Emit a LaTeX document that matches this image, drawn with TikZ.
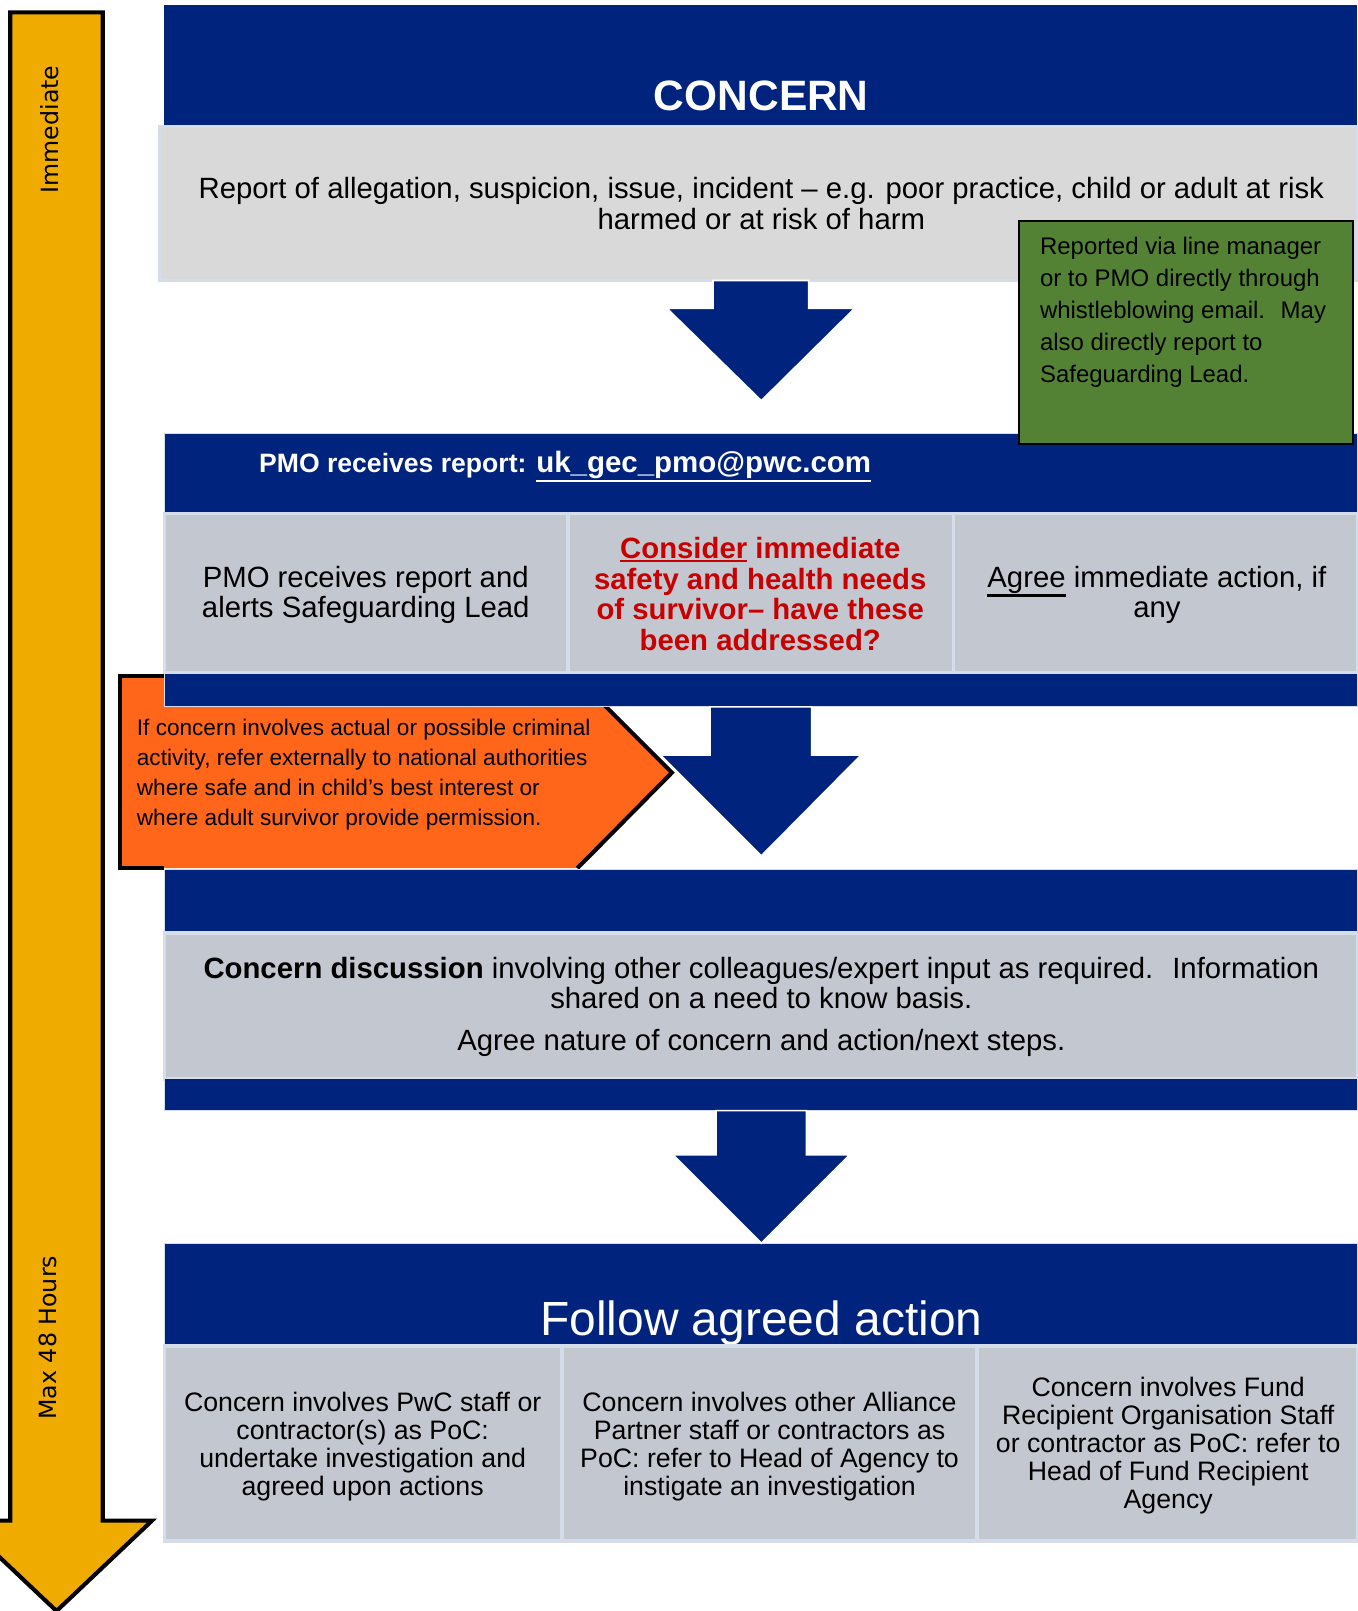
\documentclass[tikz,border=0pt]{standalone}
\usepackage{fontspec}
\setmainfont{Liberation Sans}
\newfontfamily\barfont{DejaVu Sans}

\definecolor{pwcnavy}{RGB}{0,35,125}
\definecolor{boxgrey}{RGB}{217,217,217}
\definecolor{cellgrey}{RGB}{195,199,208}
\definecolor{celledge}{RGB}{214,221,234}
\definecolor{leafgreen}{RGB}{84,130,53}
\definecolor{alertorange}{RGB}{255,102,26}
\definecolor{timegold}{RGB}{240,171,0}
\definecolor{alertred}{RGB}{200,0,0}

% thick underline that follows the text colour
\newcommand{\ulword}[1]{\setbox0=\hbox{#1}\rlap{\rule[\dimexpr-\dp0-2.5pt\relax]{\wd0}{1.6pt}}\box0\relax}

\tikzset{
  navyband/.style={fill=pwcnavy, draw=celledge, line width=0.8pt},
  greybox/.style={fill=boxgrey, draw=celledge, line width=2.5pt},
  greycell/.style={fill=cellgrey, draw=celledge, line width=2.5pt},
  downarrow/.style={fill=pwcnavy, draw=white, line width=1.2pt},
  timebar/.style={fill=timegold, draw=black, line width=3pt},
  bodytext/.style={font=\fontsize{21.4}{22.5}\selectfont, align=center, inner sep=0pt},
  celltext/.style={font=\fontsize{19.5}{20.3}\selectfont, align=center, inner sep=0pt},
  notetext/.style={align=left, inner sep=0pt, anchor=west},
  bartext/.style={font=\barfont\fontsize{17.3}{20}\selectfont, rotate=90, inner sep=0pt}
}

\begin{document}
\begin{tikzpicture}[x=0.75pt, y=-0.75pt]
    \useasboundingbox (0,0) rectangle (1321,1568);

    % Time bar on the left
    \draw[timebar] (10,12) -- (100,12) -- (100,1480) -- (148,1480) -- (55,1568) -- (-38,1480) -- (10,1480) -- cycle;
    \node[bartext] (immediate) at (48,126) {Immediate};
    \node[bartext] (maxhours) at (47,1302) {Max 48 Hours};

    % Concern header and report box
    \fill[pwcnavy] (160,5) rectangle (1321,123);
    \node[font=\bfseries\fontsize{31}{36}\selectfont, text=white, anchor=base] (concern) at (741,108) {CONCERN};
    \draw[greybox] (155,123) rectangle (1321,273);
    \node[bodytext] (report) at (741,198) {Report of allegation, suspicion, issue, incident -- e.g. poor practice, child or adult at risk\\harmed or at risk of harm};

    % First down arrow
    \draw[downarrow] (694,273) -- (787,273) -- (787,300) -- (832,300) -- (741,390) -- (649,300) -- (694,300) -- cycle;

    % PMO band and its three cells
    \draw[navyband] (160,422) rectangle (1321,500);
    \node[font=\bfseries\fontsize{19.4}{24}\selectfont, text=white, anchor=base west, inner sep=0pt] (pmo) at (252,460) {PMO receives report: {\fontsize{21.5}{24}\selectfont\ulword{uk\_gec\_pmo@pwc.com}}};
    \draw[greycell] (160,500) rectangle (553,655);
    \draw[greycell] (553,500) rectangle (928,655);
    \draw[greycell] (928,500) rectangle (1321,655);
    \node[bodytext] (alerts) at (356,579) {PMO receives report and\\alerts Safeguarding Lead};
    \node[bodytext, font=\bfseries\fontsize{21.4}{22.3}\selectfont, text=alertred] (safety) at (740,578) {\ulword{Consider} immediate\\safety and health needs\\of survivor-- have these\\been addressed?};
    \node[bodytext] (agree) at (1126,579) {\ulword{Agree} immediate action, if\\any};

    % Green note
    \draw[fill=leafgreen, draw=black, line width=1.5pt] (992,215) rectangle (1317,432);
    \node[notetext, font=\fontsize{17.5}{23.25}\selectfont] (viamgr) at (1012,304) {Reported via line manager\\or to PMO directly through\\whistleblowing email.~ May\\also directly report to\\Safeguarding Lead.};

    % Orange tag for criminal activity
    \fill[alertorange] (117,658) -- (560,658) -- (654,752) -- (562,845) -- (117,845) -- cycle;
    \draw[line width=3pt] (160,658) -- (117,658) -- (117,845) -- (160,845);
    \draw[line width=3pt] (560,658) -- (654,752) -- (562,845);
    \node[notetext, font=\fontsize{16.5}{22}\selectfont] (criminal) at (133,754) {If concern involves actual or possible criminal\\activity, refer externally to national authorities\\where safe and in child’s best interest or\\where adult survivor provide permission.};

    % Second down arrow
    \draw[navyband] (160,655) rectangle (1321,688);
    \draw[navyband] (160,846) rectangle (1321,908);
    \draw[downarrow] (691,688) -- (790,688) -- (790,735) -- (838,735) -- (741,833) -- (643,735) -- (691,735) -- cycle;

    % Concern discussion
    \draw[greycell] (160,908) rectangle (1321,1050);
    \node[bodytext] (discuss) at (741,980) {\textbf{Concern discussion} involving other colleagues/expert input as required.~ Information\\shared on a need to know basis.\\[8pt]Agree nature of concern and action/next steps.};
    \draw[navyband] (160,1050) rectangle (1321,1081);

    % Follow agreed action
    \draw[navyband] (160,1210) rectangle (1321,1310);
    \draw[downarrow] (697,1081) -- (785,1081) -- (785,1124) -- (827,1124) -- (741,1210) -- (655,1124) -- (697,1124) -- cycle;
    \node[font=\fontsize{35}{40}\selectfont, text=white, anchor=base] (follow) at (741,1300) {Follow agreed action};
    \draw[greycell] (160,1310) rectangle (547,1500);
    \draw[greycell] (547,1310) rectangle (951,1500);
    \draw[greycell] (951,1310) rectangle (1321,1500);
    \node[celltext] (pwcstaff) at (353,1408) {Concern involves PwC staff or\\contractor(s) as PoC:\\undertake investigation and\\agreed upon actions};
    \node[celltext] (alliance) at (749,1408) {Concern involves other Alliance\\Partner staff or contractors as\\PoC: refer to Head of Agency to\\instigate an investigation};
    \node[celltext] (fundrecip) at (1137,1407) {Concern involves Fund\\Recipient Organisation Staff\\or contractor as PoC: refer to\\Head of Fund Recipient\\Agency};
\end{tikzpicture}
\end{document}
